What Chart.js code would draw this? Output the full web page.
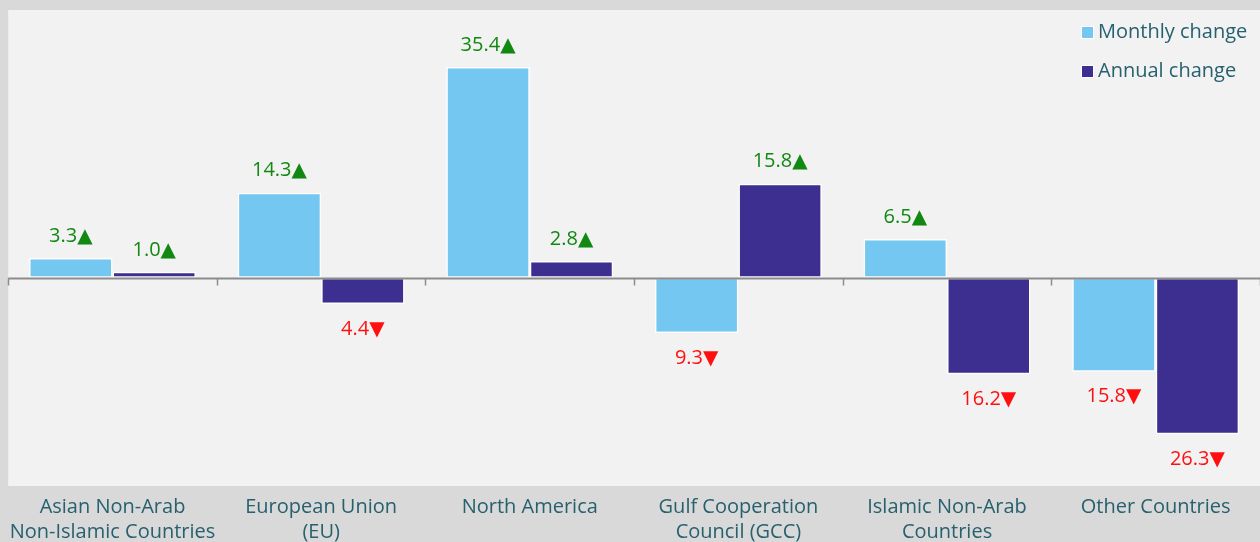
<!DOCTYPE html>
<html>
<head>
<meta charset="utf-8">
<script src="https://cdn.jsdelivr.net/npm/chart.js@4"></script>
<style>
  html, body { margin: 0; padding: 0; background: #d9d9d9; }
  #wrap { width: 1260px; height: 542px; }
</style>
</head>
<body>
<div id="wrap"><canvas id="chart" width="1260" height="542"></canvas></div>
<script>
// categories (two-line labels)
const categories = [
  ['Asian Non-Arab', 'Non-Islamic Countries'],
  ['European Union', '(EU)'],
  ['North America'],
  ['Gulf Cooperation', 'Council (GCC)'],
  ['Islamic Non-Arab', 'Countries'],
  ['Other Countries']
];
const seriesNames = ['Monthly change', 'Annual change'];
const monthlyChange = [3.3, 14.3, 35.4, -9.3, 6.5, -15.8];
const annualChange = [1.0, -4.4, 2.8, 15.8, -16.2, -26.3];

const FONT = '"Open Sans", "DejaVu Sans", sans-serif';
const TEXT = '#27606e';

// fond gris + zone du graphique
const bgPlugin = {
  id: 'bg',
  beforeDraw(chart) {
    const { ctx, chartArea: a } = chart;
    ctx.save();
    ctx.fillStyle = '#d9d9d9';
    ctx.fillRect(0, 0, chart.width, chart.height);
    ctx.fillStyle = '#f2f2f2';
    ctx.fillRect(a.left, a.top, a.right - a.left, a.bottom - a.top);
    ctx.restore();
  }
};

// ligne du zéro + petites graduations
const zeroLinePlugin = {
  id: 'zeroLine',
  afterDatasetsDraw(chart) {
    const { ctx, chartArea: a } = chart;
    const y0 = Math.round(chart.scales.y.getPixelForValue(0)) + 0.5;
    const x = chart.scales.x;
    const step = (a.right - a.left) / categories.length;
    ctx.save();
    ctx.strokeStyle = '#8c8c8c';
    ctx.lineWidth = 2;
    ctx.beginPath();
    ctx.moveTo(a.left, y0);
    ctx.lineTo(a.right, y0);
    ctx.stroke();
    ctx.lineWidth = 1.5;
    for (let i = 0; i <= categories.length; i++) {
      const xp = Math.round(x.getPixelForValue(i) - step / 2) + 0.5;
      ctx.beginPath();
      ctx.moveTo(xp, y0);
      ctx.lineTo(xp, y0 + 7);
      ctx.stroke();
    }
    ctx.restore();
  }
};

// étiquettes des valeurs avec flèches
const valueLabels = {
  id: 'valueLabels',
  afterDatasetsDraw(chart) {
    const { ctx } = chart;
    ctx.save();
    ctx.font = '20px ' + FONT;
    ctx.textAlign = 'center';
    ctx.textBaseline = 'middle';
    chart.data.datasets.forEach((ds, di) => {
      chart.getDatasetMeta(di).data.forEach((bar, i) => {
        const v = ds.data[i];
        const up = v >= 0;
        const txt = Math.abs(v).toFixed(1) + (up ? '\u25B2' : '\u25BC');
        ctx.fillStyle = up ? '#118811' : '#ff1010';
        ctx.fillText(txt, bar.x, up ? bar.y - 22 : bar.y + 25);
      });
    });
    ctx.restore();
  }
};

// légende dans le coin haut droit
const legendPlugin = {
  id: 'cornerLegend',
  afterDraw(chart) {
    const { ctx } = chart;
    ctx.save();
    ctx.font = '20px ' + FONT;
    ctx.textBaseline = 'middle';
    chart.data.datasets.forEach((ds, i) => {
      const y = 32 + i * 39;
      ctx.fillStyle = '#ffffff';
      ctx.fillRect(1081, y - 6, 13, 13);
      ctx.fillStyle = ds.backgroundColor;
      ctx.fillRect(1082, y - 5, 11, 11);
      ctx.fillStyle = TEXT;
      ctx.fillText(ds.label, 1098, y);
    });
    ctx.restore();
  }
};

new Chart(document.getElementById('chart'), {
  type: 'bar',
  data: {
    labels: categories,
    datasets: [
      { label: seriesNames[0], data: monthlyChange, backgroundColor: '#74c7f0',
        borderColor: '#ffffff', borderWidth: 1.5, borderSkipped: false },
      { label: seriesNames[1], data: annualChange, backgroundColor: '#3c2f8f',
        borderColor: '#ffffff', borderWidth: 1.5, borderSkipped: false }
    ]
  },
  options: {
    responsive: false,
    animation: false,
    layout: { padding: { left: 8, top: 10, right: 0, bottom: 0 } },
    datasets: { bar: { categoryPercentage: 0.8, barPercentage: 1.0 } },
    plugins: { legend: { display: false }, tooltip: { enabled: false } },
    scales: {
      x: {
        grid: { display: false, drawTicks: false },
        border: { display: false },
        ticks: { color: TEXT, font: { family: FONT, size: 20, lineHeight: 1.25 }, padding: 9, maxRotation: 0, autoSkip: false },
        afterFit(scale) { scale.height = 56; }
      },
      y: { display: false, min: -35, max: 45 }
    }
  },
  plugins: [bgPlugin, zeroLinePlugin, valueLabels, legendPlugin]
});
</script>
</body>
</html>
